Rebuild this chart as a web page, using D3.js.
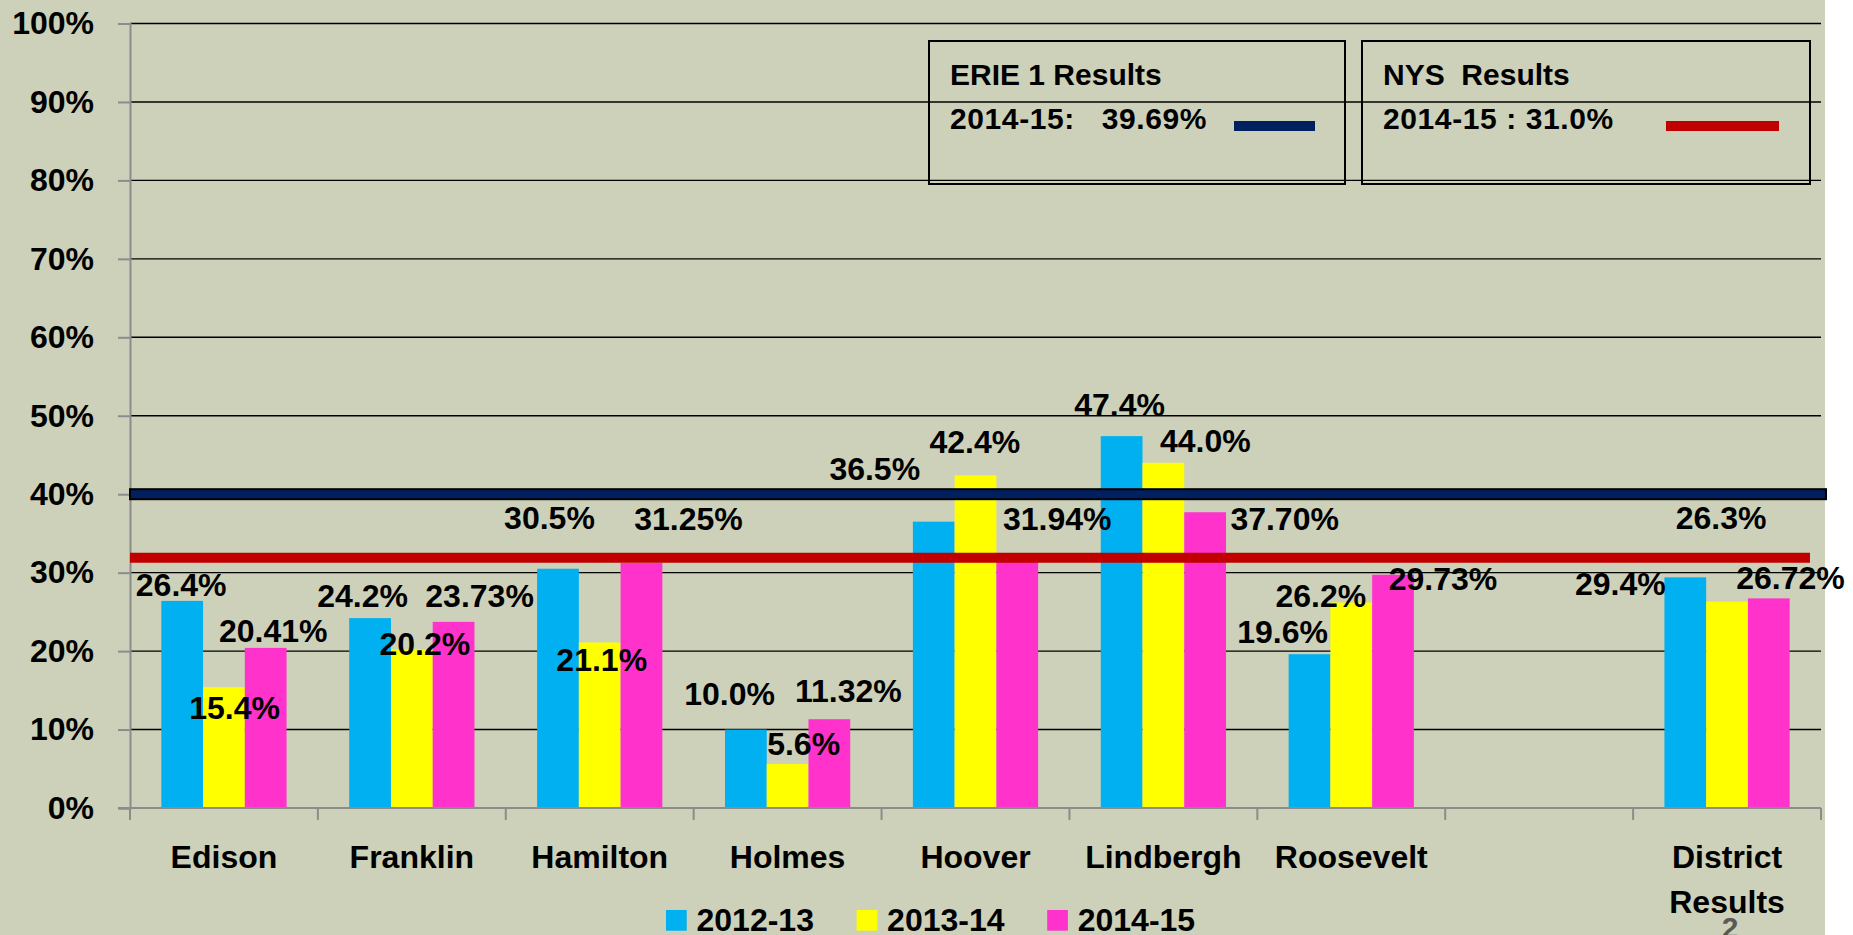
<!DOCTYPE html>
<html>
<head>
<meta charset="utf-8">
<script src="https://cdn.jsdelivr.net/npm/d3@7/dist/d3.min.js"></script>
<style>
  html, body { margin: 0; padding: 0; background: #ffffff; }
  svg { display: block; }
  text { font-family: "Liberation Sans", Arial, sans-serif; font-weight: bold; }
</style>
</head>
<body>
<svg id="chart" width="1853" height="935"></svg>
<script>
// ---------------- data ----------------
const categories = ["Edison", "Franklin", "Hamilton", "Holmes", "Hoover", "Lindbergh", "Roosevelt", "", "District Results"];
const seriesNames = ["2012-13", "2013-14", "2014-15"];
const values2012 = [26.4, 24.2, 30.5, 10.0, 36.5, 47.4, 19.6, null, 29.4];
const values2013 = [15.4, 20.2, 21.1, 5.6, 42.4, 44.0, 26.2, null, 26.3];
const values2014 = [20.41, 23.73, 31.25, 11.32, 31.94, 37.70, 29.73, null, 26.72];
const seriesDecimals = [1, 1, 2];
const yTicks = [0, 10, 20, 30, 40, 50, 60, 70, 80, 90, 100];
const refLabels = ["ERIE 1 Results", "NYS  Results"];
const refValueTexts = ["2014-15:   39.69%", "2014-15 : 31.0%"];
const refLineLevels = [40.0, 31.9];   // where the drawn reference lines sit on the axis

// ---------------- layout / style ----------------
const colors = ["#00B0F0", "#FFFF00", "#FF33CC"];
const refColors = ["#002060", "#C00000"];
// label offsets: [dx from bar centre, baseline relative to bar top]
const labelOffsets = [
  [[-1,-4.5],[-7.5,-11.5],[-8.5,-39.7],[-16.3,-24.5],[-59,-41.7],[-2,-20],[-27,-11.5],null,[-65,17.6]],
  [[10.7,32],[13,5.5],[2,29],[16,-9],[-0.7,-22],[42,-11],[-30.4,4.8],null,[-6,-72.4]],
  [[7.5,-6],[26,-15],[47,-33],[19,-17.5],[40,-27.4],[79.5,17.8],[50,15.2],null,[21.6,-9]]
];
const seriesValues = [values2012, values2013, values2014];

const svg = d3.select("#chart");
const W = 1853, H = 935;
const plot = { left: 130, right: 1821, top: 23.5, bottom: 808 };

svg.append("rect").attr("x", 0).attr("y", 0).attr("width", 1825).attr("height", H).attr("fill", "#CDD1B9");

const x = d3.scaleBand().domain(categories).range([plot.left, plot.right]).padding(0);
const bw = x.bandwidth();
const barW = bw / 4.5;
const x1 = d3.scaleBand().domain(seriesNames).range([(bw - 3 * barW) / 2, (bw + 3 * barW) / 2]).padding(0);
const y = d3.scaleLinear().domain([0, 100]).range([plot.bottom, plot.top]);

// gridlines
svg.append("g").selectAll("line").data(yTicks.filter(d => d > 0)).join("line")
  .attr("x1", plot.left).attr("x2", plot.right)
  .attr("y1", d => y(d)).attr("y2", d => y(d))
  .attr("stroke", "#000").attr("stroke-width", 1.4);

// y axis
const yAxis = d3.axisLeft(y).tickValues(yTicks).tickFormat(d => d + "%").tickSize(12).tickPadding(24);
const gy = svg.append("g").attr("transform", `translate(${plot.left},0)`).call(yAxis);
gy.select(".domain").attr("stroke", "#8c8c8c").attr("stroke-width", 2);
gy.selectAll(".tick line").attr("stroke", "#8c8c8c").attr("stroke-width", 2);
gy.selectAll(".tick text").attr("font-size", 32).attr("font-family", "Liberation Sans, Arial, sans-serif")
  .attr("font-weight", "bold").attr("fill", "#000");

// bars
const rows = categories.map((c, i) => ({ cat: c, i }));
seriesNames.forEach((s, si) => {
  svg.append("g").selectAll("rect").data(rows.filter(r => seriesValues[si][r.i] != null)).join("rect")
    .attr("x", r => x(r.cat) + x1(s))
    .attr("width", x1.bandwidth())
    .attr("y", r => y(seriesValues[si][r.i]))
    .attr("height", r => y(0) - y(seriesValues[si][r.i]))
    .attr("fill", colors[si]);
});

// x axis
const xa = svg.append("g");
xa.append("line").attr("x1", plot.left - 12).attr("x2", plot.right).attr("y1", y(0)).attr("y2", y(0))
  .attr("stroke", "#8c8c8c").attr("stroke-width", 2);
const bounds = categories.map(c => x(c)).concat([plot.right]);
xa.selectAll("line.tk").data(bounds).join("line").attr("class", "tk")
  .attr("x1", d => d).attr("x2", d => d).attr("y1", y(0)).attr("y2", y(0) + 12)
  .attr("stroke", "#8c8c8c").attr("stroke-width", 2);
xa.selectAll("text").data(categories).join("text")
  .attr("x", d => x(d) + bw / 2).attr("y", 868)
  .attr("text-anchor", "middle").attr("font-size", 32).attr("fill", "#000")
  .each(function (d) {
    const words = d === "District Results" ? ["District", "Results"] : [d];
    const t = d3.select(this);
    words.forEach((w, k) => t.append("tspan").attr("x", x(d) + bw / 2).attr("dy", k === 0 ? 0 : 45).text(w));
  });

// reference lines
svg.append("rect").attr("x", plot.left).attr("width", 1826 - plot.left)
  .attr("y", y(refLineLevels[0]) - 5).attr("height", 10)
  .attr("fill", refColors[0]).attr("stroke", "#000").attr("stroke-width", 2);
svg.append("rect").attr("x", plot.left).attr("width", 1810 - plot.left)
  .attr("y", y(refLineLevels[1]) - 5).attr("height", 10)
  .attr("fill", refColors[1]);

// data labels
seriesNames.forEach((s, si) => {
  const fmt = d3.format("." + seriesDecimals[si] + "f");
  svg.append("g").selectAll("text").data(rows.filter(r => seriesValues[si][r.i] != null)).join("text")
    .attr("x", r => x(r.cat) + x1(s) + x1.bandwidth() / 2 + labelOffsets[si][r.i][0])
    .attr("y", r => y(seriesValues[si][r.i]) + labelOffsets[si][r.i][1])
    .attr("text-anchor", "middle").attr("font-size", 32).attr("fill", "#000")
    .text(r => fmt(seriesValues[si][r.i]) + "%");
});

// reference boxes
const boxes = [
  { x: 929, w: 416, swX: 1234, swW: 81 },
  { x: 1362, w: 448, swX: 1666, swW: 113 }
];
boxes.forEach((b, k) => {
  const g = svg.append("g");
  g.append("rect").attr("x", b.x).attr("y", 41).attr("width", b.w).attr("height", 143)
    .attr("fill", "none").attr("stroke", "#000").attr("stroke-width", 2);
  g.append("text").attr("x", b.x + 21).attr("y", 85).attr("font-size", 30).attr("fill", "#000")
    .style("white-space", "pre").text(refLabels[k]);
  g.append("text").attr("x", b.x + 21).attr("y", 129).attr("font-size", 30).attr("fill", "#000")
    .attr("letter-spacing", 0.6)
    .style("white-space", "pre").text(refValueTexts[k]);
  g.append("rect").attr("x", b.swX).attr("y", 121).attr("width", b.swW).attr("height", 10).attr("fill", refColors[k]);
});

// legend
const leg = svg.append("g");
seriesNames.forEach((s, si) => {
  const lx = 666 + si * 190.6;
  leg.append("rect").attr("x", lx).attr("y", 910).attr("width", 20.7).attr("height", 20.7).attr("fill", colors[si]);
  leg.append("text").attr("x", lx + 30.5).attr("y", 930.7).attr("font-size", 32).attr("fill", "#000").text(s);
});

// slide number
svg.append("text").attr("x", 1730).attr("y", 938).attr("text-anchor", "middle")
  .attr("font-size", 30).attr("fill", "#595959").text("2");
</script>
</body>
</html>
